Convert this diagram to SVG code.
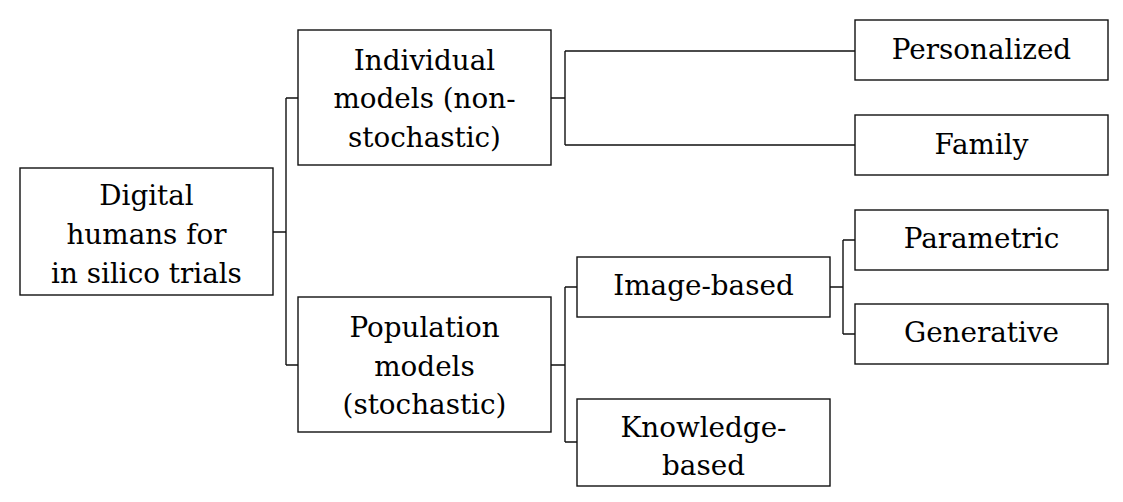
<svg xmlns="http://www.w3.org/2000/svg" width="1123" height="502" viewBox="0 0 1123 502">
<style>
rect{fill:#fff;stroke:#111;stroke-width:1.4}
text{font-family:'DejaVu Serif',serif;font-size:27.8px;fill:#000;text-anchor:middle}
#connectors path{fill:none;stroke:#111;stroke-width:1.4}
</style>
<rect x="0" y="0" width="1123" height="502" style="stroke:none"/>
<g id="connectors">
<path d="M273,232H286M286,98V365M286,98H298M286,365H298"/>
<path d="M551,98H565M565,51V145M565,51H855M565,145H855"/>
<path d="M551,365H565M565,287V442M565,287H577M565,442H577"/>
<path d="M830,287H843M843,240V334M843,240H855M843,334H855"/>
</g>
<g id="root"><rect x="20" y="168" width="253" height="127"/><text x="146.5" y="205">Digital</text><text x="146.5" y="244">humans for</text><text x="146.5" y="283">in silico trials</text></g>
<g id="individual"><rect x="298" y="30" width="253" height="135"/><text x="424.5" y="70">Individual</text><text x="424.5" y="108">models (non-</text><text x="424.5" y="147">stochastic)</text></g>
<g id="population"><rect x="298" y="297" width="253" height="135"/><text x="424.5" y="337">Population</text><text x="424.5" y="376">models</text><text x="424.5" y="414">(stochastic)</text></g>
<g id="personalized"><rect x="855" y="20" width="253" height="60"/><text x="981.5" y="59">Personalized</text></g>
<g id="family"><rect x="855" y="115" width="253" height="60"/><text x="981.5" y="154">Family</text></g>
<g id="image-based"><rect x="577" y="257" width="253" height="60"/><text x="703.5" y="295">Image-based</text></g>
<g id="knowledge-based"><rect x="577" y="399" width="253" height="87"/><text x="703.5" y="437">Knowledge-</text><text x="703.5" y="475">based</text></g>
<g id="parametric"><rect x="855" y="210" width="253" height="60"/><text x="981.5" y="248">Parametric</text></g>
<g id="generative"><rect x="855" y="304" width="253" height="60"/><text x="981.5" y="342">Generative</text></g>
</svg>
